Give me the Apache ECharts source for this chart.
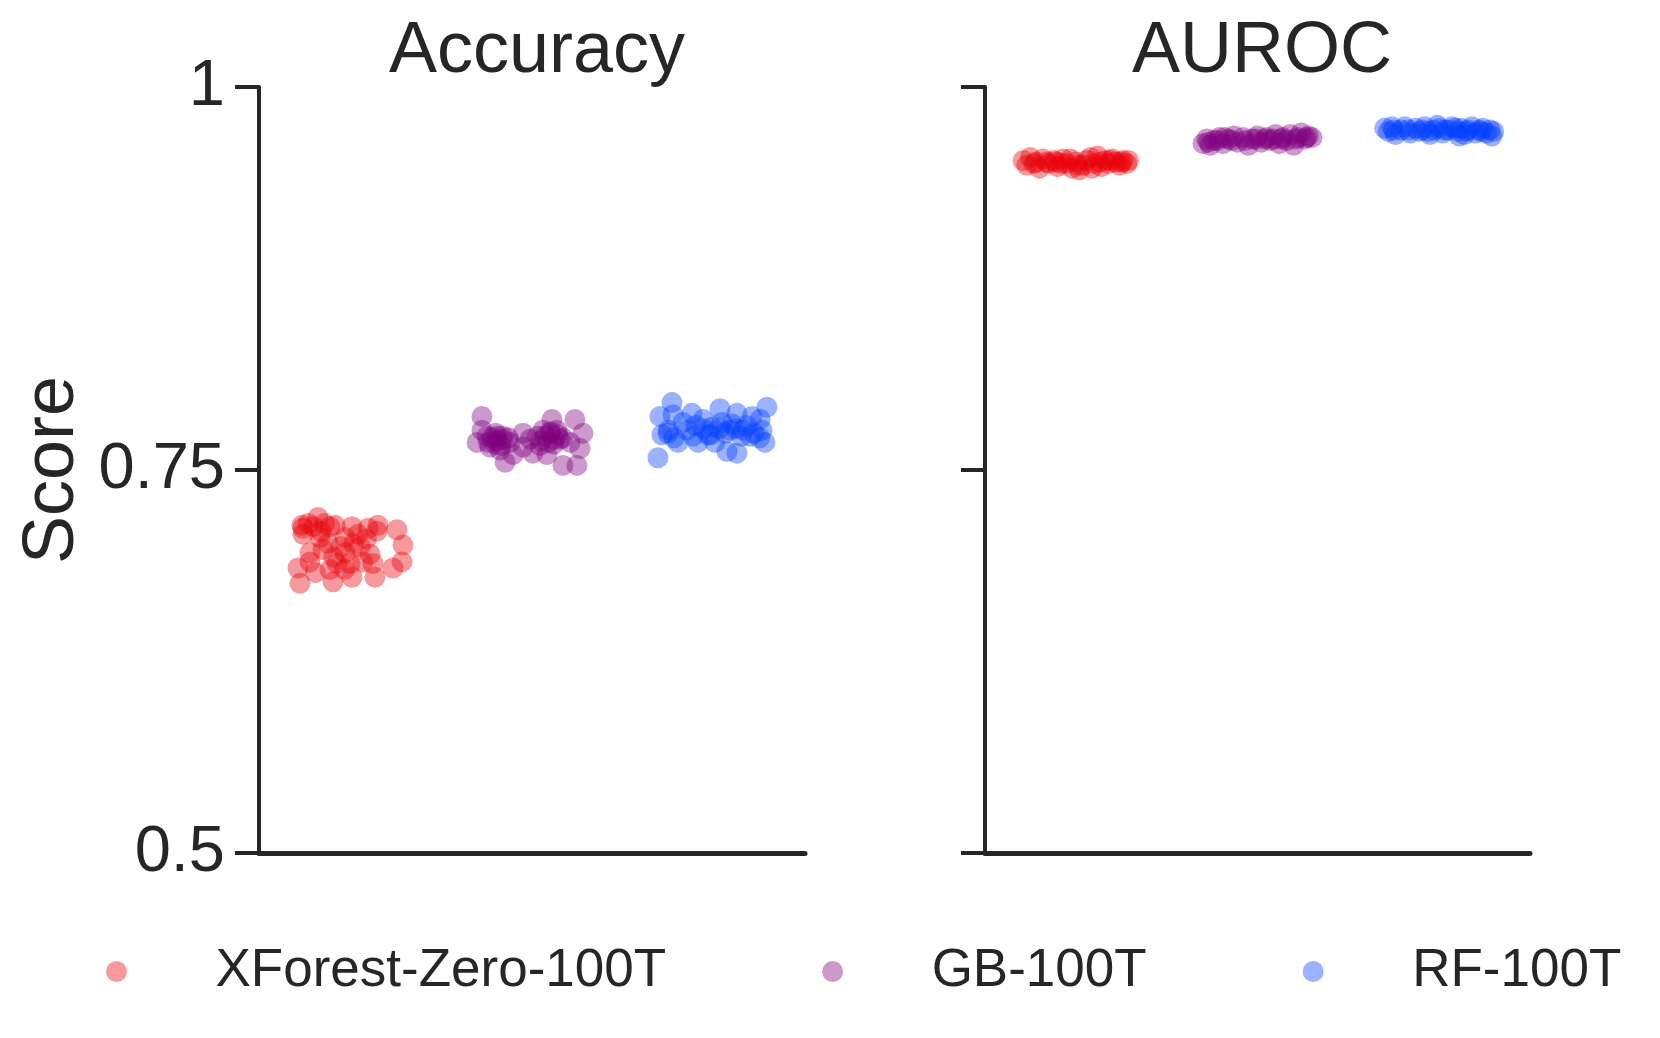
<!DOCTYPE html>
<html>
<head>
<meta charset="utf-8">
<script src="https://cdn.jsdelivr.net/npm/echarts@6/dist/echarts.min.js"></script>
<style>
  html, body { margin: 0; padding: 0; background: #fff; }
  #main { width: 1660px; height: 1038px; }
</style>
</head>
<body>
<div id="main"></div>
<script>
// strip plot: [jitter within category, score]
var models = ['XForest-Zero-100T', 'GB-100T', 'RF-100T'];
var panels = ['Accuracy', 'AUROC'];
var yTicks = [0.5, 0.75, 1];

var xfAccuracy = [
  [-0.275, 0.676], [-0.286, 0.686], [-0.264, 0.714], [-0.258, 0.708], [-0.176, 0.719],
  [-0.110, 0.713], [-0.082, 0.714], [0.011, 0.713], [0.154, 0.714], [0.258, 0.711],
  [0.291, 0.701], [0.286, 0.690], [0.236, 0.686], [0.137, 0.680], [0.011, 0.680],
  [-0.093, 0.677], [-0.110, 0.685], [-0.220, 0.690], [-0.220, 0.696], [-0.148, 0.698],
  [-0.121, 0.702], [-0.027, 0.696], [0.000, 0.689], [0.055, 0.700], [0.044, 0.708],
  [0.110, 0.695], [0.126, 0.689], [0.148, 0.710], [-0.027, 0.706], [-0.071, 0.689],
  [-0.165, 0.706], [-0.260, 0.712], [-0.230, 0.715], [-0.140, 0.715], [-0.160, 0.710],
  [-0.050, 0.700], [-0.090, 0.693], [0.020, 0.702], [0.070, 0.690], [0.090, 0.705],
  [-0.190, 0.683], [-0.030, 0.685], [0.100, 0.712], [-0.200, 0.713]
];
var gbAccuracy = [
  [-0.275, 0.785], [-0.275, 0.776], [-0.302, 0.768], [-0.247, 0.772], [-0.192, 0.772],
  [-0.159, 0.770], [-0.148, 0.755], [-0.104, 0.760], [-0.049, 0.774], [-0.049, 0.765],
  [0.005, 0.761], [0.044, 0.766], [0.082, 0.760], [0.110, 0.783], [0.099, 0.774],
  [0.154, 0.770], [0.170, 0.753], [0.236, 0.783], [0.280, 0.774], [0.247, 0.753],
  [0.264, 0.764], [0.209, 0.768], [-0.231, 0.765], [-0.176, 0.763], [-0.121, 0.768],
  [0.060, 0.776], [0.137, 0.776], [-0.011, 0.770], [-0.200, 0.767], [0.030, 0.772],
  [0.120, 0.767], [-0.220, 0.771], [-0.190, 0.769], [-0.160, 0.772], [-0.200, 0.774],
  [-0.170, 0.766], [-0.130, 0.771], [0.070, 0.772], [0.100, 0.775], [0.120, 0.770],
  [0.090, 0.768], [0.140, 0.773], [0.050, 0.769], [-0.240, 0.768], [0.170, 0.771]
];
var rfAccuracy = [
  [-0.308, 0.758], [-0.297, 0.785], [-0.286, 0.773], [-0.231, 0.794], [-0.225, 0.786],
  [-0.253, 0.774], [-0.198, 0.768], [-0.121, 0.787], [-0.115, 0.772], [-0.088, 0.768],
  [-0.060, 0.783], [-0.011, 0.778], [0.005, 0.768], [0.033, 0.790], [0.071, 0.762],
  [0.088, 0.776], [0.126, 0.787], [0.126, 0.761], [0.159, 0.776], [0.209, 0.785],
  [0.253, 0.783], [0.280, 0.768], [0.291, 0.791], [0.264, 0.776], [-0.148, 0.776],
  [0.198, 0.772], [-0.033, 0.773], [0.044, 0.781], [0.100, 0.780], [-0.170, 0.781],
  [-0.250, 0.776], [-0.220, 0.771], [-0.060, 0.777], [-0.020, 0.773], [0.030, 0.777],
  [0.060, 0.774], [0.120, 0.777], [0.150, 0.772], [0.180, 0.779], [0.220, 0.774],
  [-0.100, 0.779], [0.250, 0.771]
];

var xfAuroc = [
  [-0.29, 0.952], [-0.27, 0.949], [-0.25, 0.954], [-0.22, 0.951], [-0.20, 0.947],
  [-0.18, 0.953], [-0.15, 0.950], [-0.12, 0.952], [-0.10, 0.948], [-0.07, 0.953],
  [-0.05, 0.950], [-0.02, 0.947], [0.00, 0.951], [0.02, 0.946], [0.04, 0.949],
  [0.06, 0.952], [0.08, 0.954], [0.10, 0.950], [0.12, 0.955], [0.14, 0.948],
  [0.16, 0.952], [0.18, 0.950], [0.20, 0.953], [0.22, 0.951], [0.24, 0.949],
  [0.26, 0.952], [0.28, 0.950], [0.29, 0.952], [-0.03, 0.953], [0.09, 0.947],
  [-0.23, 0.950], [-0.16, 0.951], [-0.08, 0.950], [0.01, 0.949], [0.13, 0.951],
  [0.19, 0.952], [0.25, 0.951], [-0.11, 0.951]
];
var gbAuroc = [
  [-0.30, 0.963], [-0.28, 0.966], [-0.26, 0.962], [-0.24, 0.965], [-0.21, 0.967],
  [-0.19, 0.963], [-0.16, 0.966], [-0.13, 0.968], [-0.11, 0.964], [-0.08, 0.967],
  [-0.05, 0.962], [-0.03, 0.966], [0.00, 0.968], [0.02, 0.964], [0.05, 0.967],
  [0.07, 0.965], [0.10, 0.969], [0.12, 0.963], [0.14, 0.967], [0.16, 0.965],
  [0.18, 0.969], [0.20, 0.962], [0.22, 0.967], [0.24, 0.970], [0.26, 0.966],
  [0.28, 0.968], [0.30, 0.967], [-0.18, 0.967], [0.09, 0.966], [-0.07, 0.965],
  [-0.22, 0.965], [-0.14, 0.965], [-0.01, 0.966], [0.04, 0.966], [0.13, 0.966],
  [0.21, 0.966], [0.27, 0.967], [-0.27, 0.964]
];
var rfAuroc = [
  [-0.30, 0.973], [-0.28, 0.971], [-0.26, 0.974], [-0.24, 0.969], [-0.21, 0.972],
  [-0.19, 0.974], [-0.16, 0.970], [-0.13, 0.973], [-0.11, 0.971], [-0.08, 0.974],
  [-0.05, 0.969], [-0.03, 0.972], [0.00, 0.973], [0.02, 0.970], [0.05, 0.972],
  [0.07, 0.974], [0.10, 0.971], [0.12, 0.973], [0.14, 0.969], [0.16, 0.972],
  [0.18, 0.974], [0.20, 0.970], [0.22, 0.972], [0.24, 0.973], [0.26, 0.970],
  [0.28, 0.972], [0.30, 0.971], [0.29, 0.968], [-0.01, 0.975], [0.11, 0.968],
  [-0.25, 0.972], [-0.17, 0.972], [-0.09, 0.972], [0.03, 0.972], [0.09, 0.973],
  [0.15, 0.971], [0.23, 0.971], [-0.06, 0.971]
];

var colors = ['rgba(232,0,11,0.5)', 'rgba(128,0,128,0.5)', 'rgba(2,62,255,0.5)'];
var groups = [[xfAccuracy, gbAccuracy, rfAccuracy], [xfAuroc, gbAuroc, rfAuroc]];

var FONT = '"Liberation Sans", Arial, sans-serif';
var INK = '#262626';

function toPoints(arr, cat) {
  return arr.map(function (p) { return [cat + p[0], p[1]]; });
}

var series = [];
groups.forEach(function (panelGroups, pi) {
  panelGroups.forEach(function (arr, ci) {
    series.push({
      name: models[ci],
      type: 'scatter',
      xAxisIndex: pi,
      yAxisIndex: pi,
      symbol: 'circle',
      symbolSize: 21,
      itemStyle: { color: colors[ci] },
      emphasis: { disabled: true },
      data: toPoints(arr, ci)
    });
  });
});

function xAxisCfg(idx) {
  return {
    type: 'value', gridIndex: idx, min: -0.5, max: 2.5,
    axisLine: { show: true, onZero: false, lineStyle: { color: INK, width: 5 } },
    axisTick: { show: false }, axisLabel: { show: false }, splitLine: { show: false }
  };
}
function yAxisCfg(idx, withLabels) {
  var cfg = {
    type: 'value', gridIndex: idx, min: yTicks[0], max: yTicks[2], interval: 0.25,
    axisLine: { show: true, onZero: false, lineStyle: { color: INK, width: 4 } },
    axisTick: { show: true, length: 24, lineStyle: { color: INK, width: 4 } },
    axisLabel: {
      show: withLabels, margin: 34, color: INK, fontSize: 65, fontFamily: FONT,
      formatter: function (v) { return String(v); }
    },
    splitLine: { show: false }
  };
  if (withLabels) {
    cfg.name = 'Score';
    cfg.nameLocation = 'middle';
    cfg.nameGap = 170;
    cfg.nameTextStyle = { color: INK, fontSize: 72, fontFamily: FONT };
  }
  return cfg;
}

var chart = echarts.init(document.getElementById('main'));
chart.setOption({
  animation: false,
  backgroundColor: '#fff',
  title: [
    { text: panels[0], left: 532, top: 11, textAlign: 'center',
      textStyle: { color: INK, fontSize: 72, fontWeight: 'normal', fontFamily: FONT } },
    { text: panels[1], left: 1257, top: 11, textAlign: 'center',
      textStyle: { color: INK, fontSize: 72, fontWeight: 'normal', fontFamily: FONT } }
  ],
  legend: {
    data: models,
    left: 101,
    top: 940,
    icon: 'circle',
    itemWidth: 188,
    itemHeight: 21,
    itemGap: 156,
    textStyle: { color: INK, fontSize: 53, fontFamily: FONT }
  },
  grid: [
    { left: 259, top: 87, width: 546, height: 766 },
    { left: 985, top: 87, width: 545, height: 766 }
  ],
  xAxis: [xAxisCfg(0), xAxisCfg(1)],
  yAxis: [yAxisCfg(0, true), yAxisCfg(1, false)],
  series: series
});
</script>
</body>
</html>
